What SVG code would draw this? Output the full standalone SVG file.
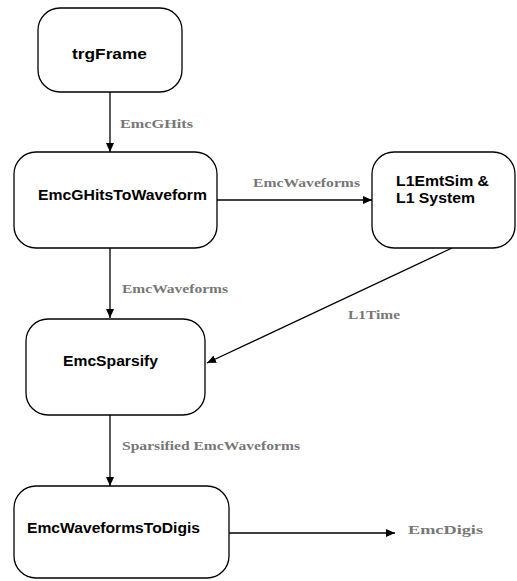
<svg xmlns="http://www.w3.org/2000/svg" width="517" height="581" viewBox="0 0 517 581">
<style>
.box{fill:#fff;stroke:#000;stroke-width:1.3}
.nt{font-family:"Liberation Sans",Arial,sans-serif;font-weight:bold;font-size:15px;fill:#000}
.lb{font-family:"Liberation Serif","Times New Roman",serif;font-weight:bold;font-size:13.5px;fill:#777}
.cn{fill:none;stroke:#000;stroke-width:1.3;marker-end:url(#ah)}
</style>
<defs>
<marker id="ah" markerWidth="10" markerHeight="10" refX="9" refY="5" orient="auto" markerUnits="userSpaceOnUse">
<path d="M0,1 L9,5 L0,9 Z" fill="#000"/>
</marker>
</defs>
<rect width="517" height="581" fill="#fff"/>
<g id="connectors">
<line class="cn" x1="110" y1="92" x2="110" y2="152"/>
<line class="cn" x1="217" y1="200" x2="372" y2="200"/>
<line class="cn" x1="110" y1="248" x2="110" y2="318"/>
<line class="cn" x1="452" y1="248" x2="207" y2="363"/>
<line class="cn" x1="110" y1="415" x2="110" y2="486"/>
<line class="cn" x1="229" y1="533" x2="395" y2="533"/>
<text class="lb" x="120" y="128" textLength="73" lengthAdjust="spacingAndGlyphs">EmcGHits</text>
<text class="lb" x="253" y="187" textLength="107" lengthAdjust="spacingAndGlyphs">EmcWaveforms</text>
<text class="lb" x="122" y="293" textLength="106" lengthAdjust="spacingAndGlyphs">EmcWaveforms</text>
<text class="lb" x="348" y="319" textLength="52" lengthAdjust="spacingAndGlyphs">L1Time</text>
<text class="lb" x="122" y="450" textLength="178" lengthAdjust="spacingAndGlyphs">Sparsified EmcWaveforms</text>
<text class="lb" x="408" y="534" font-size="17" textLength="75" lengthAdjust="spacingAndGlyphs">EmcDigis</text>
</g>
<g id="trgFrame">
<rect class="box" x="38" y="8" width="144" height="84" rx="22" ry="22"/>
<text class="nt" x="72" y="59" textLength="75" lengthAdjust="spacingAndGlyphs">trgFrame</text>
</g>
<g id="EmcGHitsToWaveform">
<rect class="box" x="14" y="152" width="203" height="96" rx="22" ry="22"/>
<text class="nt" x="38" y="200" textLength="169" lengthAdjust="spacingAndGlyphs">EmcGHitsToWaveform</text>
</g>
<g id="L1EmtSim">
<rect class="box" x="372" y="152" width="143" height="96" rx="22" ry="22"/>
<text class="nt" x="396" y="186" textLength="93" lengthAdjust="spacingAndGlyphs">L1EmtSim &amp;</text>
<text class="nt" x="396" y="203" textLength="79" lengthAdjust="spacingAndGlyphs">L1 System</text>
</g>
<g id="EmcSparsify">
<rect class="box" x="26" y="319" width="179" height="96" rx="22" ry="22"/>
<text class="nt" x="63" y="366" textLength="95" lengthAdjust="spacingAndGlyphs">EmcSparsify</text>
</g>
<g id="EmcWaveformsToDigis">
<rect class="box" x="14" y="486" width="215" height="92" rx="22" ry="22"/>
<text class="nt" x="27" y="533" textLength="173" lengthAdjust="spacingAndGlyphs">EmcWaveformsToDigis</text>
</g>
</svg>
